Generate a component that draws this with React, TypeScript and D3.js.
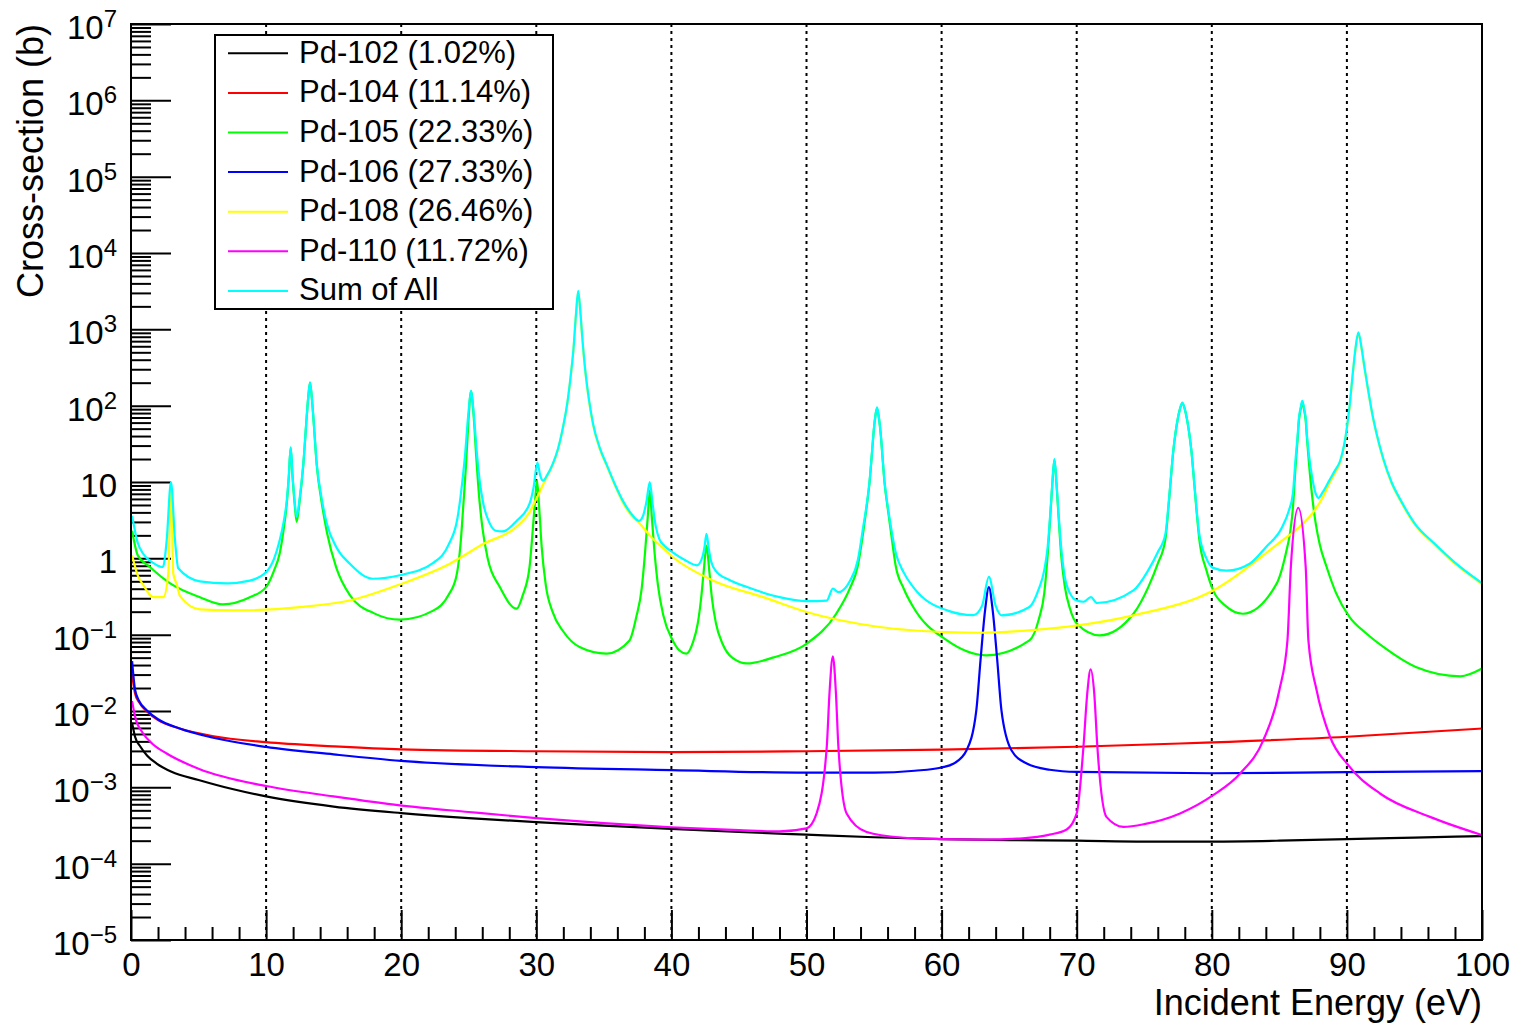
import { useEffect, useRef } from "react";
import * as d3 from "d3";

type Pt = [number, number];

// energy (eV), cross-section (b)
const pd102: Pt[] = [
  [0.08, 7.0e-3], [0.3, 4.6e-3], [0.7, 3.4e-3], [1.2, 2.6e-3], [1.9, 2.05e-3], [3, 1.6e-3],
  [5, 1.25e-3], [7.5, 9.5e-4], [10, 7.6e-4], [15, 5.6e-4], [20, 4.6e-4], [25, 3.95e-4],
  [30, 3.5e-4], [35, 3.15e-4], [40, 2.85e-4], [45, 2.6e-4], [50, 2.4e-4], [55, 2.22e-4],
  [60, 2.1e-4], [65, 2.03e-4], [70, 2.0e-4], [75, 1.95e-4], [80, 1.95e-4], [85, 2.0e-4],
  [90, 2.1e-4], [95, 2.2e-4], [100, 2.3e-4],
];

const pd104: Pt[] = [
  [0.08, 0.03], [0.3, 0.017], [0.6, 0.013], [1.2, 9.8e-3], [2, 7.6e-3], [3.6, 5.9e-3],
  [6, 4.7e-3], [10, 3.9e-3], [15, 3.45e-3], [20, 3.15e-3], [30, 2.97e-3], [40, 2.9e-3],
  [50, 2.97e-3], [60, 3.12e-3], [70, 3.4e-3], [77.65, 3.75e-3], [90, 4.6e-3], [100, 5.9e-3],
];

const pd105: Pt[] = [
  [0.08, 2.3], [0.5, 1.1], [1.4, 0.77], [2.9, 0.47], [5.1, 0.31], [6.8, 0.25], [8.8, 0.31],
  [10, 0.42], [10.6, 0.7], [11.0, 1.15], [11.3, 2.4], [11.52, 5.0], [11.68, 11.5], [11.82, 28],
  [11.96, 11.5], [12.1, 5.5], [12.26, 3.0], [12.5, 6.0], [12.75, 16.5], [13.0, 69], [13.12, 129],
  [13.25, 200], [13.38, 129], [13.5, 69], [13.75, 16.5], [14.1, 5.6], [14.5, 2.2], [15.2, 0.75],
  [16.2, 0.33], [18, 0.19], [19.9, 0.157], [22.4, 0.208], [23.5, 0.33], [24.1, 0.6], [24.4, 1.6],
  [24.6, 5], [24.8, 17], [24.97, 60], [25.17, 154], [25.37, 70], [25.55, 22], [25.75, 7],
  [26.0, 2.6], [26.4, 1.0], [27.3, 0.42], [28.55, 0.219], [29.0, 0.33], [29.5, 0.77],
  [29.75, 2.5], [29.92, 6], [30.05, 10.4], [30.2, 5], [30.4, 1.4], [30.7, 0.45], [31.2, 0.2],
  [32, 0.11], [33.2, 0.069], [35.2, 0.0565], [36.9, 0.084], [37.4, 0.17], [37.8, 0.4],
  [38.05, 1.2], [38.25, 3.5], [38.4, 7.7], [38.55, 3.5], [38.75, 1.2], [39.0, 0.45], [39.4, 0.18],
  [40.1, 0.084], [40.6, 0.062], [41.1, 0.0565], [41.6, 0.08], [41.95, 0.14], [42.2, 0.3],
  [42.4, 0.7], [42.6, 1.47], [42.8, 0.7], [43.0, 0.3], [43.3, 0.14], [43.8, 0.075], [44.5, 0.05],
  [45.6, 0.042], [47.5, 0.05], [50, 0.076], [52.2, 0.188], [53.2, 0.4], [53.8, 0.8], [54.2, 2.2],
  [54.45, 4.7], [54.67, 10], [54.85, 24.5], [54.95, 41], [55.08, 69], [55.22, 93], [55.36, 69],
  [55.5, 41], [55.6, 24.5], [55.77, 10], [56.0, 4.7], [56.25, 2.2], [56.6, 0.8], [57.2, 0.4],
  [57.9, 0.23], [60.4, 0.084], [63.3, 0.0537], [66.5, 0.084], [67.2, 0.16], [67.6, 0.35],
  [67.85, 1.1], [68.05, 3.7], [68.2, 9.6], [68.35, 19.5], [68.5, 9.6], [68.65, 3.7], [68.85, 1.1],
  [69.1, 0.45], [69.5, 0.22], [70, 0.14], [71.7, 0.098], [74.2, 0.188], [75.3, 0.42], [76.0, 0.85],
  [76.57, 1.8], [76.77, 4.2], [76.92, 8.7], [77.15, 25.5], [77.32, 44.5], [77.49, 68.5],
  [77.65, 91.5], [77.82, 108], [77.99, 91.5], [78.15, 68.5], [78.32, 44.5], [78.49, 25.5],
  [78.72, 8.7], [78.87, 4.2], [79.07, 1.8], [79.6, 0.7], [80.1, 0.38], [81, 0.24], [82.3, 0.188],
  [84.8, 0.466], [85.5, 1.2], [85.8, 2.2], [86.0, 4.5], [86.2, 16], [86.35, 36], [86.45, 64],
  [86.58, 90], [86.7, 112], [86.82, 90], [86.95, 64], [87.05, 36], [87.2, 17], [87.45, 6],
  [87.7, 2.8], [88.0, 1.5], [88.5, 0.77], [89.2, 0.35], [90.2, 0.17], [91.4, 0.105], [92.7, 0.069],
  [95.1, 0.0377], [98.4, 0.0285], [100, 0.036],
];

const pd106: Pt[] = [
  [0.08, 0.045], [0.3, 0.019], [0.6, 0.0135], [1.2, 0.0101], [2, 7.8e-3], [3.6, 5.9e-3],
  [6, 4.5e-3], [10, 3.38e-3], [15, 2.7e-3], [20, 2.22e-3], [30, 1.84e-3], [40, 1.68e-3],
  [50, 1.56e-3], [55, 1.56e-3], [58, 1.65e-3], [60, 1.82e-3], [60.9, 2.05e-3], [61.85, 3.06e-3],
  [62.57, 0.0102], [62.88, 0.046], [63.22, 0.21], [63.5, 0.42], [63.78, 0.21], [64.12, 0.046],
  [64.43, 0.0102], [65.17, 3.06e-3], [66.3, 2.05e-3], [68, 1.7e-3], [70, 1.59e-3],
  [80, 1.53e-3], [90, 1.58e-3], [100, 1.63e-3],
];

const pd108: Pt[] = [
  [0.08, 1.1], [0.5, 0.6], [0.9, 0.45], [1.65, 0.31], [2.39, 0.31], [2.76, 0.63], [2.96, 9],
  [3.13, 0.63], [3.4, 0.45], [3.63, 0.32], [5.1, 0.215], [7.6, 0.208], [12.5, 0.23], [16.2, 0.28],
  [19.9, 0.455], [23.6, 0.85], [26.1, 1.55], [28.55, 2.6], [29.5, 4.0], [30.0, 6.0], [30.77, 11.6],
  [31.2, 16.5], [31.6, 26.5], [32.0, 54], [32.3, 108], [32.55, 245], [32.75, 540], [32.95, 1650],
  [33.1, 3100], [33.25, 1750], [33.4, 780], [33.6, 310], [33.9, 115], [34.2, 56], [34.7, 27],
  [35.2, 16.5], [35.8, 9.2], [36.4, 5.4], [37.0, 3.7], [37.7, 2.8], [38.5, 1.9], [39.3, 1.4],
  [40.1, 1.04], [43.1, 0.51], [46.8, 0.31], [50, 0.198], [55.4, 0.126], [60.4, 0.108],
  [62.8, 0.106], [66.5, 0.114], [70.2, 0.133], [74.2, 0.179], [80.1, 0.38], [85.2, 1.71],
  [86.4, 2.5], [87.5, 4.0], [88.2, 6.2], [88.7, 9.6], [89.1, 13], [89.5, 18], [89.8, 30],
  [90.0, 50], [90.2, 96], [90.4, 222], [90.6, 485], [90.85, 880], [91.1, 535], [91.3, 310],
  [91.6, 146], [91.9, 73], [92.2, 42], [92.7, 19.5], [93.3, 9.7], [94, 5.5], [95, 2.8],
  [96.5, 1.5], [98, 0.85], [100, 0.46],
];

const pd110: Pt[] = [
  [0.08, 0.0135], [0.3, 8.5e-3], [0.9, 5.07e-3], [1.6, 3.7e-3], [2.64, 2.77e-3], [5, 1.75e-3],
  [10, 1.04e-3], [15, 7.6e-4], [19.9, 5.8e-4], [25, 4.75e-4], [30, 3.95e-4], [35, 3.4e-4],
  [40, 3.0e-4], [45, 2.75e-4], [48, 2.65e-4], [50, 2.9e-4], [50.75, 4.55e-4], [51.5, 3.4e-3],
  [51.7, 0.0169], [51.95, 0.052], [52.18, 0.0169], [52.36, 3.4e-3], [52.97, 4.55e-4],
  [54.45, 2.6e-4], [57, 2.2e-4], [60, 2.1e-4], [63, 2.07e-4], [66, 2.15e-4], [68, 2.4e-4],
  [69.26, 2.8e-4], [70.0, 4.55e-4], [70.5, 3.4e-3], [70.78, 0.0169], [71.03, 0.035],
  [71.3, 0.0169], [71.53, 3.4e-3], [72.2, 4.1e-4], [73.45, 3.04e-4], [75, 3.3e-4],
  [77.65, 4.55e-4], [80.1, 7.9e-4], [82.1, 1.52e-3], [83.8, 4.1e-3], [85.0, 0.0187],
  [85.6, 0.084], [85.85, 0.77], [86.4, 4.6], [86.95, 0.77], [87.15, 0.084], [87.76, 0.0187],
  [88.75, 4.6e-3], [90.1, 1.95e-3], [92.45, 8.3e-4], [96.15, 4.1e-4], [100, 2.37e-4],
];

const sumAll: Pt[] = [
  [0.08, 3.6], [0.5, 1.6], [0.9, 1.15], [1.6, 0.88], [2.27, 0.77], [2.39, 0.79], [2.64, 1.71],
  [2.96, 10], [3.26, 1.71], [3.5, 0.74], [5.1, 0.5], [7.1, 0.47], [8.8, 0.51], [10, 0.66],
  [10.6, 1.0], [11.0, 1.71], [11.3, 3.0], [11.52, 5.5], [11.68, 12], [11.82, 28.5], [11.96, 12],
  [12.1, 6], [12.26, 3.5], [12.5, 6.5], [12.75, 17], [13.0, 70], [13.12, 130], [13.25, 202],
  [13.38, 130], [13.5, 70], [13.75, 17.3], [14.1, 6.3], [14.5, 2.83], [15.2, 1.4], [16.2, 0.85],
  [17.9, 0.54], [19.9, 0.6], [22.4, 0.88], [23.5, 1.5], [24.17, 3.4], [24.52, 10], [24.72, 22],
  [24.97, 78], [25.17, 157], [25.37, 78], [25.62, 22], [25.82, 10], [26.1, 5], [26.5, 3.0],
  [27.0, 2.3], [27.5, 2.25], [28.55, 3.1], [29.5, 5.2], [29.8, 8.5], [30.08, 18], [30.3, 12],
  [30.5, 10.4], [30.77, 12], [31.2, 17], [31.6, 27], [32.0, 55], [32.3, 110], [32.55, 250],
  [32.75, 550], [32.95, 1700], [33.1, 3200], [33.25, 1800], [33.4, 800], [33.6, 320], [33.9, 120],
  [34.2, 58], [34.7, 28], [35.2, 17], [35.8, 9.5], [36.4, 5.7], [37.0, 3.9], [37.6, 3.1],
  [37.9, 3.6], [38.15, 5.5], [38.4, 10], [38.62, 5], [38.85, 2.6], [39.1, 1.8], [39.5, 1.45],
  [40.1, 1.2], [41.0, 0.95], [41.9, 0.81], [42.3, 1.05], [42.45, 1.4], [42.6, 2.1], [42.75, 1.4],
  [42.95, 0.9], [43.3, 0.68], [44.3, 0.52], [45.6, 0.42], [48, 0.31], [50, 0.275], [51.5, 0.28],
  [51.95, 0.4], [52.36, 0.36], [53.2, 0.5], [53.8, 0.95], [54.2, 2.6], [54.45, 5], [54.67, 10.4],
  [54.85, 25], [54.95, 42], [55.08, 70], [55.22, 95], [55.36, 70], [55.5, 42], [55.6, 25],
  [55.77, 10.4], [56.0, 5], [56.25, 2.6], [56.6, 1.2], [57.2, 0.65], [57.9, 0.42], [60.4, 0.208],
  [62.35, 0.18], [63.0, 0.24], [63.5, 0.57], [64.0, 0.24], [64.45, 0.179], [66.5, 0.23],
  [67.2, 0.4], [67.6, 0.7], [67.85, 1.4], [68.05, 4], [68.2, 10], [68.35, 20], [68.5, 10],
  [68.65, 4], [68.85, 1.4], [69.1, 0.6], [69.5, 0.35], [70, 0.28], [70.5, 0.27], [71.05, 0.31],
  [71.5, 0.26], [74.2, 0.38], [75.3, 0.7], [76.0, 1.2], [76.57, 2.1], [76.77, 4.5], [76.92, 9],
  [77.15, 25.8], [77.32, 45], [77.49, 69], [77.65, 92], [77.82, 110], [77.99, 92], [78.15, 69],
  [78.32, 45], [78.49, 25.8], [78.72, 9], [78.87, 4.5], [79.07, 2.1], [79.6, 1.0], [80.1, 0.75],
  [81.1, 0.69], [82.8, 0.85], [84.0, 1.4], [85.2, 2.56], [85.7, 4.2], [86.0, 7], [86.2, 20],
  [86.35, 40], [86.45, 69], [86.58, 95], [86.7, 116], [86.82, 95], [86.95, 69], [87.05, 40],
  [87.2, 22], [87.45, 11], [87.7, 7], [87.9, 6.2], [88.2, 7.3], [88.7, 10.5], [89.1, 14],
  [89.5, 19], [89.8, 31], [90.0, 52], [90.2, 100], [90.4, 230], [90.6, 500], [90.85, 910],
  [91.1, 550], [91.3, 318], [91.6, 150], [91.9, 75], [92.2, 43], [92.7, 20], [93.3, 10],
  [94.0, 5.7], [95.0, 2.9], [96.5, 1.55], [98, 0.88], [100, 0.474],
];

const seriesData = [pd102, pd104, pd105, pd106, pd108, pd110, sumAll];
const seriesNames = [
  "Pd-102 (1.02%)",
  "Pd-104 (11.14%)",
  "Pd-105 (22.33%)",
  "Pd-106 (27.33%)",
  "Pd-108 (26.46%)",
  "Pd-110 (11.72%)",
  "Sum of All",
];
const seriesColors = ["#000000", "#ff0000", "#00ff00", "#0000ff", "#ffff00", "#ff00ff", "#00ffff"];

const xMajorTicks = [0, 10, 20, 30, 40, 50, 60, 70, 80, 90, 100];
const xGridTicks = [10, 20, 30, 40, 50, 60, 70, 80, 90];
const yExponents = [-5, -4, -3, -2, -1, 0, 1, 2, 3, 4, 5, 6, 7];

const FONT = "'Liberation Sans', Arial, Helvetica, sans-serif";

export default function App() {
  const svgRef = useRef<SVGSVGElement>(null);

  useEffect(() => {
    if (!svgRef.current) return;
    const svg = d3.select(svgRef.current);
    svg.selectAll("*").remove();

    const left = 131;
    const right = 1482;
    const top = 24;
    const bottom = 940;

    const x = d3.scaleLinear().domain([0, 100]).range([left, right]);
    const y = d3.scaleLog().domain([1e-5, 1e7]).range([bottom, top]);

    svg.append("rect").attr("width", 1515).attr("height", 1027).attr("fill", "#fff");

    svg
      .append("defs")
      .append("clipPath")
      .attr("id", "plot-clip")
      .append("rect")
      .attr("x", left)
      .attr("y", top)
      .attr("width", right - left)
      .attr("height", bottom - top);

    // dotted vertical grid
    svg
      .append("g")
      .selectAll("line")
      .data(xGridTicks)
      .join("line")
      .attr("x1", (d) => x(d))
      .attr("x2", (d) => x(d))
      .attr("y1", top)
      .attr("y2", bottom)
      .attr("stroke", "#000")
      .attr("stroke-width", 2)
      .attr("stroke-dasharray", "3,4");

    // x axis: minor + major ticks pointing up
    const xMinor = d3.range(0, 101, 2).filter((d) => d % 10 !== 0);
    svg
      .append("g")
      .attr("transform", `translate(0,${bottom})`)
      .call(d3.axisBottom(x).tickValues(xMinor).tickSize(-13).tickSizeOuter(0).tickFormat(() => ""))
      .call((g) => g.select(".domain").remove())
      .call((g) => g.selectAll(".tick line").attr("stroke", "#000").attr("stroke-width", 2));

    svg
      .append("g")
      .attr("transform", `translate(0,${bottom})`)
      .call(
        d3
          .axisBottom(x)
          .tickValues(xMajorTicks)
          .tickSize(-30)
          .tickSizeOuter(0)
          .tickPadding(13)
          .tickFormat((d) => String(d)),
      )
      .call((g) => g.select(".domain").remove())
      .call((g) => g.selectAll(".tick line").attr("stroke", "#000").attr("stroke-width", 2))
      .call((g) =>
        g
          .selectAll(".tick text")
          .attr("fill", "#000")
          .attr("font-family", FONT)
          .attr("font-size", "33px"),
      );

    // y axis: minor + major ticks pointing right
    const yMinor: number[] = [];
    for (let k = -5; k < 7; k++) for (let m = 2; m <= 9; m++) yMinor.push(m * Math.pow(10, k));
    svg
      .append("g")
      .attr("transform", `translate(${left},0)`)
      .call(d3.axisLeft(y).tickValues(yMinor).tickSize(-20).tickSizeOuter(0).tickFormat(() => ""))
      .call((g) => g.select(".domain").remove())
      .call((g) => g.selectAll(".tick line").attr("stroke", "#000").attr("stroke-width", 2));
    svg
      .append("g")
      .attr("transform", `translate(${left},0)`)
      .call(
        d3
          .axisLeft(y)
          .tickValues(yExponents.map((k) => Math.pow(10, k)))
          .tickSize(-40)
          .tickSizeOuter(0)
          .tickFormat(() => ""),
      )
      .call((g) => g.select(".domain").remove())
      .call((g) => g.selectAll(".tick line").attr("stroke", "#000").attr("stroke-width", 2));

    // y tick labels with superscripts
    const yLab = svg
      .append("g")
      .attr("font-family", FONT)
      .attr("fill", "#000")
      .attr("text-anchor", "end");
    yExponents.forEach((k) => {
      const t = yLab
        .append("text")
        .attr("x", 117)
        .attr("y", y(Math.pow(10, k)) + 15)
        .attr("font-size", "33px");
      if (k === 0) t.text("1");
      else if (k === 1) t.text("10");
      else {
        t.append("tspan").text("10");
        t.append("tspan")
          .attr("font-size", "24px")
          .attr("dy", -12)
          .text(k < 0 ? `\u2212${-k}` : String(k));
      }
    });

    // curves
    const line = d3
      .line<Pt>()
      .x((d) => x(d[0]))
      .y((d) => y(d[1]))
      .curve(d3.curveMonotoneX);

    const curves = svg.append("g").attr("clip-path", "url(#plot-clip)");
    seriesData.forEach((s, i) => {
      curves
        .append("path")
        .datum(s)
        .attr("d", line)
        .attr("fill", "none")
        .attr("stroke", seriesColors[i])
        .attr("stroke-width", 2.2)
        .attr("stroke-linejoin", "round");
    });

    // frame
    svg
      .append("rect")
      .attr("x", left)
      .attr("y", top)
      .attr("width", right - left)
      .attr("height", bottom - top)
      .attr("fill", "none")
      .attr("stroke", "#000")
      .attr("stroke-width", 2);

    // axis titles
    svg
      .append("text")
      .attr("x", right)
      .attr("y", 1015)
      .attr("text-anchor", "end")
      .attr("font-family", FONT)
      .attr("font-size", "36px")
      .attr("fill", "#000")
      .text("Incident Energy (eV)");

    svg
      .append("text")
      .attr("transform", `translate(43,${top}) rotate(-90)`)
      .attr("text-anchor", "end")
      .attr("font-family", FONT)
      .attr("font-size", "36px")
      .attr("fill", "#000")
      .text("Cross-section (b)");

    // legend
    const legend = svg.append("g");
    legend
      .append("rect")
      .attr("x", 215)
      .attr("y", 35)
      .attr("width", 338)
      .attr("height", 274)
      .attr("fill", "#fff")
      .attr("stroke", "#000")
      .attr("stroke-width", 2);
    const rowY = (i: number) => 53.3 + i * 39.6;
    seriesNames.forEach((name, i) => {
      legend
        .append("line")
        .attr("x1", 228)
        .attr("x2", 288)
        .attr("y1", rowY(i))
        .attr("y2", rowY(i))
        .attr("stroke", seriesColors[i])
        .attr("stroke-width", 2);
      legend
        .append("text")
        .attr("x", 299)
        .attr("y", rowY(i) + 9.5)
        .attr("font-family", FONT)
        .attr("font-size", "31px")
        .attr("fill", "#000")
        .text(name);
    });
  }, []);

  return (
    <svg
      ref={svgRef}
      width={1515}
      height={1027}
      style={{ position: "absolute", left: 0, top: 0, display: "block" }}
      role="img"
      aria-label="Palladium isotope cross-sections vs incident energy"
    />
  );
}
